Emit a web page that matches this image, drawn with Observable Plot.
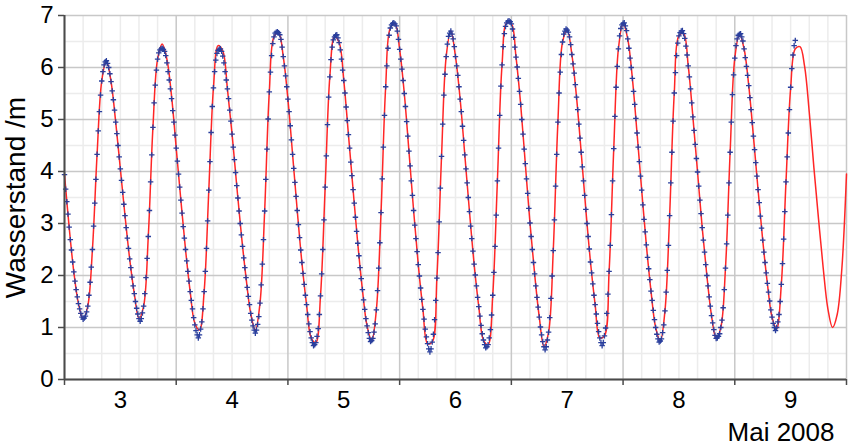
<!DOCTYPE html>
<html>
<head>
<meta charset="utf-8">
<script src="https://cdn.jsdelivr.net/npm/d3@7"></script>
<script src="https://cdn.jsdelivr.net/npm/@observablehq/plot@0.6"></script>
<style>
  html, body { margin: 0; padding: 0; background: #fff; }
  svg { display: block; }
</style>
</head>
<body>
<div id="chart"></div>
<script>
// Time base: May 3 2008 00:00, expressed as day-of-month
const startDay = 3;
const blueStepMinutes = 15;   // measured values (blue markers)
const redStepMinutes = 60;    // continuous red curve

// Measured water level (m), every 15 minutes from May 3 00:00
const blueLevel = [
  3.94, 3.66, 3.42, 3.18, 2.93, 2.69, 2.49, 2.26, 2.07, 1.89, 1.73, 1.59, 1.46, 1.36, 1.27, 1.20, 1.16,
  1.18, 1.22, 1.30, 1.41, 1.62, 1.87, 2.16, 2.50, 2.95, 3.39, 3.85, 4.33, 4.78, 5.15, 5.47, 5.74, 5.92, 6.05, 6.11, 6.13,
  6.08, 6.00, 5.88, 5.73, 5.55, 5.38, 5.18, 4.95, 4.73, 4.50, 4.28, 4.05, 3.83, 3.60, 3.37, 3.15, 2.92, 2.72, 2.52, 2.32, 2.15, 1.97, 1.80, 1.65, 1.50, 1.37, 1.26, 1.17, 1.12,
  1.17, 1.28, 1.41, 1.65, 1.96, 2.33, 2.75, 3.25, 3.80, 4.32, 4.85, 5.32, 5.66, 5.95, 6.16, 6.28, 6.34, 6.36, 6.37,
  6.35, 6.31, 6.23, 6.09, 5.92, 5.76, 5.59, 5.40, 5.17, 4.95, 4.70, 4.45, 4.20, 3.95, 3.70, 3.45, 3.20, 2.94, 2.72, 2.50, 2.28, 2.08, 1.89, 1.69, 1.52, 1.36, 1.19, 1.05, 0.94, 0.86, 0.80,
  0.86, 0.97, 1.11, 1.36, 1.69, 2.08, 2.52, 3.05, 3.64, 4.19, 4.75, 5.25, 5.61, 5.92, 6.14, 6.27, 6.33, 6.35, 6.36,
  6.31, 6.22, 6.09, 5.92, 5.76, 5.59, 5.40, 5.18, 4.97, 4.72, 4.47, 4.23, 3.98, 3.73, 3.49, 3.24, 3.00, 2.78, 2.56, 2.34, 2.15, 1.96, 1.77, 1.60, 1.44, 1.27, 1.14, 1.03, 0.95, 0.89,
  0.95, 1.06, 1.21, 1.47, 1.82, 2.22, 2.69, 3.24, 3.85, 4.43, 5.01, 5.53, 5.91, 6.23, 6.46, 6.59, 6.66, 6.68, 6.69,
  6.67, 6.63, 6.54, 6.39, 6.21, 6.03, 5.84, 5.63, 5.39, 5.15, 4.88, 4.61, 4.33, 4.06, 3.79, 3.52, 3.25, 2.98, 2.73, 2.49, 2.25, 2.04, 1.83, 1.62, 1.44, 1.25, 1.07, 0.92, 0.80, 0.71, 0.65,
  0.67, 0.71, 0.83, 0.98, 1.25, 1.61, 2.03, 2.50, 3.07, 3.70, 4.30, 4.90, 5.43, 5.82, 6.15, 6.39, 6.53, 6.59, 6.62, 6.63,
  6.57, 6.48, 6.34, 6.16, 5.95, 5.75, 5.51, 5.24, 4.98, 4.71, 4.45, 4.18, 3.92, 3.65, 3.39, 3.12, 2.85, 2.62, 2.38, 2.15, 1.94, 1.73, 1.53, 1.35, 1.17, 1.03, 0.90, 0.79, 0.73,
  0.75, 0.79, 0.91, 1.07, 1.34, 1.71, 2.14, 2.63, 3.21, 3.86, 4.47, 5.08, 5.63, 6.03, 6.37, 6.62, 6.76, 6.82, 6.85, 6.86,
  6.84, 6.80, 6.70, 6.54, 6.35, 6.16, 5.97, 5.75, 5.50, 5.25, 4.96, 4.68, 4.39, 4.11, 3.82, 3.54, 3.25, 2.97, 2.71, 2.46, 2.21, 1.99, 1.76, 1.54, 1.35, 1.16, 0.97, 0.82, 0.69, 0.59, 0.53,
  0.59, 0.72, 0.87, 1.15, 1.52, 1.95, 2.44, 3.03, 3.68, 4.29, 4.91, 5.47, 5.87, 6.21, 6.45, 6.60, 6.66, 6.70,
  6.64, 6.55, 6.40, 6.21, 6.03, 5.85, 5.63, 5.39, 5.15, 4.87, 4.60, 4.32, 4.05, 3.78, 3.50, 3.23, 2.95, 2.71, 2.47, 2.22, 2.01, 1.80, 1.58, 1.40, 1.22, 1.04, 0.88, 0.76, 0.67, 0.61,
  0.63, 0.67, 0.80, 0.96, 1.24, 1.62, 2.06, 2.56, 3.16, 3.82, 4.45, 5.08, 5.64, 6.05, 6.40, 6.65, 6.79, 6.86, 6.89, 6.90,
  6.88, 6.84, 6.74, 6.58, 6.39, 6.20, 6.01, 5.79, 5.54, 5.29, 5.00, 4.72, 4.43, 4.15, 3.86, 3.58, 3.29, 3.01, 2.75, 2.50, 2.25, 2.03, 1.80, 1.58, 1.39, 1.20, 1.01, 0.86, 0.73, 0.63, 0.57,
  0.63, 0.76, 0.91, 1.19, 1.56, 1.99, 2.48, 3.07, 3.72, 4.33, 4.95, 5.51, 5.91, 6.25, 6.49, 6.64, 6.70, 6.74,
  6.72, 6.68, 6.59, 6.44, 6.25, 6.07, 5.89, 5.67, 5.43, 5.19, 4.91, 4.64, 4.37, 4.09, 3.82, 3.54, 3.27, 3.00, 2.75, 2.51, 2.26, 2.05, 1.84, 1.62, 1.44, 1.26, 1.08, 0.92, 0.80, 0.71, 0.65,
  0.71, 0.84, 0.99, 1.27, 1.64, 2.08, 2.58, 3.17, 3.82, 4.44, 5.06, 5.62, 6.02, 6.36, 6.61, 6.75, 6.82, 6.85, 6.86,
  6.80, 6.71, 6.55, 6.37, 6.18, 6.00, 5.79, 5.54, 5.29, 5.02, 4.74, 4.47, 4.19, 3.91, 3.64, 3.36, 3.08, 2.84, 2.59, 2.35, 2.13, 1.92, 1.70, 1.52, 1.33, 1.15, 1.00, 0.87, 0.78, 0.72,
  0.74, 0.78, 0.90, 1.05, 1.32, 1.68, 2.10, 2.58, 3.15, 3.78, 4.37, 4.97, 5.51, 5.90, 6.23, 6.47, 6.61, 6.67, 6.70, 6.71,
  6.65, 6.56, 6.41, 6.24, 6.03, 5.82, 5.59, 5.32, 5.05, 4.79, 4.52, 4.25, 3.99, 3.72, 3.45, 3.19, 2.92, 2.68, 2.45, 2.21, 2.00, 1.80, 1.59, 1.41, 1.23, 1.09, 0.96, 0.85, 0.79,
  0.80, 0.83, 0.88, 1.00, 1.14, 1.38, 1.73, 2.14, 2.61, 3.16, 3.78, 4.37, 4.95, 5.48, 5.86, 6.18, 6.42, 6.55, 6.62, 6.64, 6.65,
  6.59, 6.51, 6.36, 6.19, 6.02, 5.85, 5.65, 5.42, 5.19, 4.94, 4.68, 4.42, 4.17, 3.91, 3.65, 3.40, 3.14, 2.91, 2.68, 2.45, 2.25, 2.05, 1.85, 1.68, 1.51, 1.34, 1.20, 1.08, 1.00, 0.94,
  1.00, 1.11, 1.25, 1.50, 1.83, 2.23, 2.70, 3.23, 3.80, 4.28, 4.74, 5.19, 5.62, 5.98, 6.24, 6.42, 6.52
];

// Red curve (m), hourly from May 3 00:00 to May 10 00:00
const redLevel = [
  3.94, 2.93, 2.07, 1.46, 1.16, 1.41, 2.50, 4.33, 5.74, 6.13,
  5.73, 4.95, 4.05, 3.15, 2.32, 1.65, 1.17, 1.41, 2.75, 4.85,
  6.16, 6.45, 6.16, 5.45, 4.45, 3.45, 2.50, 1.69, 1.08, 0.95,
  1.69, 3.64, 5.61, 6.42, 6.32, 5.59, 4.72, 3.73, 2.78, 1.96,
  1.27, 0.95, 1.47, 3.24, 5.53, 6.59, 6.67, 6.21, 5.39, 4.33,
  3.25, 2.25, 1.44, 0.80, 0.71, 1.61, 3.70, 5.82, 6.59, 6.48,
  5.75, 4.71, 3.65, 2.62, 1.73, 1.03, 0.75, 1.34, 3.21, 5.63,
  6.76, 6.84, 6.35, 5.50, 4.39, 3.25, 2.21, 1.35, 0.69, 0.72,
  1.95, 4.29, 6.21, 6.70, 6.21, 5.39, 4.32, 3.23, 2.22, 1.40,
  0.76, 0.67, 1.62, 3.82, 6.05, 6.86, 6.84, 6.20, 5.29, 4.15,
  3.01, 2.03, 1.20, 0.63, 0.91, 2.48, 4.95, 6.49, 6.72, 6.25,
  5.43, 4.37, 3.27, 2.26, 1.44, 0.80, 0.84, 2.08, 4.44, 6.36,
  6.85, 6.55, 5.79, 4.74, 3.64, 2.59, 1.70, 1.00, 0.74, 1.32,
  3.15, 5.51, 6.61, 6.65, 6.03, 5.05, 3.99, 2.92, 2.00, 1.23,
  0.79, 1.00, 2.14, 4.37, 6.18, 6.64, 6.36, 5.65, 4.68, 3.65,
  2.68, 1.85, 1.20, 0.98, 1.83, 3.80, 5.60, 6.36, 6.40, 6.02,
  5.14, 4.07, 3.08, 2.14, 1.36, 1.00, 1.25, 2.13, 3.95
];

// Axis ticks and labels
const yTicks = [0, 1, 2, 3, 4, 5, 6, 7];
const yTickLabels = ["0", "1", "2", "3", "4", "5", "6", "7"];
const yMinorTicks = [0.5, 1.5, 2.5, 3.5, 4.5, 5.5, 6.5];
const dayTicks = [3, 4, 5, 6, 7, 8, 9, 10];
const dayLabels = ["3", "4", "5", "6", "7", "8", "9"];
const hoursPerMinorTick = 4;
const xTitle = "Mai 2008";
const yTitle = "Wasserstand /m";

// Build tables
const blue = blueLevel.map((v, i) => ({day: startDay + i * blueStepMinutes / 1440, level: v}));
const red = redLevel.map((v, i) => ({day: startDay + i * redStepMinutes / 1440, level: v}));
const xMinorTicks = d3.range(dayTicks[0], dayTicks[dayTicks.length - 1], hoursPerMinorTick / 24)
  .filter(d => Math.abs(d - Math.round(d)) > 1e-6);
const dayLabelPositions = dayLabels.map((s, i) => dayTicks[i] + 0.5);

const majorGrid = "#c8c8c8";
const minorGrid = "#ececec";
const axisColor = "#4a4a4a";

const chart = Plot.plot({
  width: 850,
  height: 448,
  marginLeft: 64,
  marginRight: 4,
  marginTop: 15,
  marginBottom: 69,
  style: {
    background: "white",
    fontFamily: '"Liberation Sans", Arial, sans-serif',
    color: "black"
  },
  x: {domain: [dayTicks[0], dayTicks[dayTicks.length - 1]]},
  y: {domain: [yTicks[0], yTicks[yTicks.length - 1]]},
  marks: [
    Plot.ruleY(yMinorTicks, {stroke: minorGrid, strokeWidth: 1.5}),
    Plot.ruleX(xMinorTicks, {stroke: minorGrid, strokeWidth: 1.5}),
    Plot.ruleY(yTicks, {stroke: majorGrid, strokeWidth: 1.5}),
    Plot.ruleX(dayTicks, {stroke: majorGrid, strokeWidth: 1.5}),
    Plot.line(red, {x: "day", y: "level", stroke: "#ff2626", strokeWidth: 1.5, curve: "catmull-rom"}),
    Plot.dot(blue, {x: "day", y: "level", symbol: "plus", r: 1.9, stroke: "#2a3f9d", strokeWidth: 1.3}),
    Plot.ruleX([dayTicks[0]], {stroke: axisColor, strokeWidth: 2}),
    Plot.ruleY([yTicks[0]], {stroke: axisColor, strokeWidth: 2}),
    Plot.axisY(yTicks, {tickSize: 6, tickPadding: 5, fontSize: 24, label: null, stroke: axisColor, strokeWidth: 1.5,
      tickFormat: d => yTickLabels[yTicks.indexOf(d)]}),
    Plot.axisX(dayTicks, {tickSize: 6, tickFormat: () => "", label: null, stroke: axisColor, strokeWidth: 1.5}),
    Plot.axisX(dayLabelPositions, {tickSize: 0, tickPadding: 11, fontSize: 24, label: null,
      tickFormat: d => dayLabels[dayLabelPositions.indexOf(d)]}),
    Plot.text([yTitle], {frameAnchor: "left", dx: -48, rotate: -90, fontSize: 28, textAnchor: "middle", lineAnchor: "middle", fill: "black"}),
    Plot.text([xTitle], {frameAnchor: "bottom-right", dx: -12, dy: 53, fontSize: 26, textAnchor: "end", lineAnchor: "middle", fill: "black"})
  ]
});

document.getElementById("chart").appendChild(chart);
</script>
</body>
</html>
